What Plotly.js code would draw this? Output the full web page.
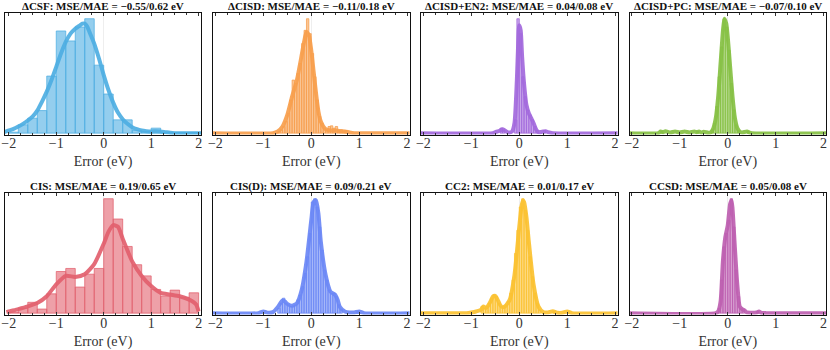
<!DOCTYPE html>
<html>
<head>
<meta charset="utf-8">
<script src="https://cdn.plot.ly/plotly-3.0.1.min.js"></script>
<style>html,body{margin:0;padding:0;background:#fff;}#chart{width:830px;height:350px;}</style>
</head>
<body>
<div id="chart"></div>
<script>
// ---------- titles / colours ----------
const panelTitles = [
  "ΔCSF: MSE/MAE = −0.55/0.62 eV",
  "ΔCISD: MSE/MAE = −0.11/0.18 eV",
  "ΔCISD+EN2: MSE/MAE = 0.04/0.08 eV",
  "ΔCISD+PC: MSE/MAE = −0.07/0.10 eV",
  "CIS: MSE/MAE = 0.19/0.65 eV",
  "CIS(D): MSE/MAE = 0.09/0.21 eV",
  "CC2: MSE/MAE = 0.01/0.17 eV",
  "CCSD: MSE/MAE = 0.05/0.08 eV"
];
const panelColors = ["77,174,226","247,158,76","162,104,220","134,192,67","226,96,110","106,135,245","251,193,48","189,94,176"];
const binWidths = [0.2,0.05,0.05,0.05,0.2,0.05,0.05,0.05];
const xTickVals = [-2,-1,0,1,2];

// ---------- ΔCSF ----------
const csfBinX = [-1.9,-1.7,-1.5,-1.3,-1.1,-0.9,-0.7,-0.5,-0.3,-0.1,0.1,0.3,0.5,0.7,0.9,1.1,1.3,1.5,1.7,1.9];
const csfBinY = [3,25,45,68,172,308,278,320,345,205,118,40,40,8,5,15,3,2,2,2];
const csfKdeX = [-2.1,-2.0,-1.9,-1.8,-1.7,-1.6,-1.5,-1.4,-1.3,-1.2,-1.1,-1.0,-0.9,-0.8,-0.7,-0.6,-0.5,-0.45,-0.4,-0.35,-0.3,-0.2,-0.1,0,0.1,0.2,0.3,0.4,0.5,0.6,0.7,0.8,0.9,1.0,1.1,1.2,1.3,1.4,1.5,2.0,2.1];
const csfKdeY = [3,8,13,20,28,38,50,68,95,125,160,200,240,275,300,315,325,330,330,322,305,270,225,175,130,92,62,42,28,18,12,8,6,5,6,5,3,1,0,0,0];

// ---------- ΔCISD ----------
const cisdBinX = [-0.675,-0.625,-0.575,-0.525,-0.475,-0.425,-0.375,-0.325,-0.275,-0.225,-0.175,-0.125,-0.075,-0.025,0.025,0.075,0.125,0.175,0.225,0.275,0.325,0.375,0.425,0.475,0.525,0.575,0.625,0.675,0.725];
const cisdBinY = [5,10,20,35,60,100,160,150,180,210,270,310,345,300,240,170,100,50,30,15,10,20,22,15,20,8,10,6,8];
const cisdKdeX = [-2.1,-0.8,-0.7,-0.6,-0.5,-0.4,-0.3,-0.2,-0.15,-0.1,-0.05,0,0.05,0.1,0.15,0.2,0.3,0.4,0.5,0.6,0.7,0.8,0.9,2.1];
const cisdKdeY = [0,0,5,20,55,110,160,235,275,305,295,250,185,120,65,35,12,8,8,6,5,2,0,0];

// ---------- ΔCISD+EN2 ----------
const en2BinX = [-0.375,-0.325,-0.075,-0.025,0.025,0.075,0.125,0.175,0.225,0.275,0.325,0.375,0.525];
const en2BinY = [15,10,40,345,300,170,110,70,55,40,20,8,8];
const en2KdeX = [-2.1,-0.55,-0.5,-0.45,-0.4,-0.35,-0.3,-0.25,-0.2,-0.15,-0.1,-0.05,-0.02,0,0.03,0.06,0.1,0.15,0.2,0.25,0.3,0.35,0.4,0.5,0.55,0.6,0.7,2.1];
const en2KdeY = [0,0,3,5,8,12,8,3,2,5,30,160,280,325,310,230,150,85,60,45,30,12,3,5,6,3,0,0];

// ---------- ΔCISD+PC ----------
const pcBinX = [-1.375,-0.625,-0.325,-0.275,-0.225,-0.175,-0.125,-0.075,-0.025,0.025,0.075,0.125,0.175,0.225,0.425];
const pcBinY = [5,5,10,30,80,170,260,345,320,250,150,70,25,8,5];
const pcKdeX = [-2.1,-1.45,-1.4,-1.35,-1.3,-1.2,-1.1,-1.0,-0.9,-0.8,-0.7,-0.65,-0.6,-0.55,-0.5,-0.4,-0.35,-0.3,-0.25,-0.2,-0.15,-0.1,-0.07,-0.03,0,0.05,0.1,0.15,0.2,0.25,0.3,0.4,0.45,0.5,2.1];
const pcKdeY = [0,0,5,3,6,2,5,2,5,2,5,3,5,2,4,1,3,15,45,110,210,310,345,330,290,200,110,45,15,5,2,5,2,0,0];

// ---------- CIS ----------
const cisBinX = [-1.9,-1.7,-1.5,-1.3,-1.1,-0.9,-0.7,-0.5,-0.3,-0.1,0.1,0.3,0.5,0.7,0.9,1.1,1.3,1.5,1.7,1.9];
const cisBinY = [3,15,32,12,57,123,132,77,115,132,338,278,197,143,110,70,50,68,47,60];
const cisKdeX = [-2.05,-2.0,-1.8,-1.6,-1.4,-1.2,-1.0,-0.8,-0.6,-0.4,-0.2,0,0.1,0.2,0.3,0.4,0.6,0.8,1.0,1.2,1.4,1.6,1.8,1.9,1.95,2.0];
const cisKdeY = [3,5,12,20,30,50,85,110,107,115,145,205,240,260,255,220,153,110,80,60,55,50,40,32,25,5];

// ---------- CIS(D) ----------
const cisdDBinX = [-0.675,-0.625,-0.575,-0.525,-0.475,-0.425,-0.375,-0.325,-0.275,-0.225,-0.175,-0.125,-0.075,-0.025,0.025,0.075,0.125,0.175,0.225,0.275,0.325,0.375,0.425,0.475,0.525,0.575,0.625,0.975];
const cisdDBinY = [15,30,45,30,25,20,22,25,40,55,80,120,170,240,335,345,320,260,190,130,100,70,60,60,50,25,12,5];
const cisdDKdeX = [-2.1,-1.1,-1.0,-0.9,-0.8,-0.7,-0.6,-0.55,-0.5,-0.4,-0.3,-0.2,-0.1,0,0.05,0.1,0.15,0.2,0.3,0.4,0.5,0.55,0.6,0.7,0.8,0.9,1.0,1.1,2.1];
const cisdDKdeY = [0,0,5,1,3,18,38,35,28,22,30,70,155,280,335,340,300,215,115,65,55,40,18,5,2,2,5,0,0];

// ---------- CC2 ----------
const cc2BinX = [-0.775,-0.725,-0.675,-0.625,-0.575,-0.525,-0.475,-0.425,-0.375,-0.325,-0.275,-0.225,-0.175,-0.125,-0.075,-0.025,0.025,0.075,0.125,0.175,0.225,0.275,0.325,0.375,0.425,0.725,1.025];
const cc2BinY = [20,15,20,30,45,55,50,30,20,20,25,35,60,100,180,250,320,345,310,250,170,110,60,30,10,5,5];
const cc2KdeX = [-2.1,-1.1,-1.0,-0.9,-0.8,-0.75,-0.7,-0.65,-0.6,-0.55,-0.5,-0.45,-0.4,-0.35,-0.3,-0.2,-0.1,0,0.05,0.08,0.1,0.15,0.2,0.3,0.4,0.5,0.6,0.7,0.8,0.9,1.0,1.1,2.1];
const cc2KdeY = [0,0,2,5,10,20,15,22,35,50,52,40,25,18,20,40,115,260,325,340,335,290,215,85,20,3,2,6,1,1,5,0,0];

// ---------- CCSD ----------
const ccsdBinX = [-0.175,-0.125,-0.075,-0.025,0.025,0.075,0.125,0.175,0.225,0.275,0.325,0.625];
const ccsdBinY = [15,100,200,240,280,345,260,130,50,15,12,5];
const ccsdKdeX = [-2.1,-0.25,-0.2,-0.15,-0.1,-0.05,0,0.05,0.08,0.1,0.15,0.2,0.25,0.3,0.35,0.4,0.6,0.65,0.7,0.8,2.1];
const ccsdKdeY = [0,0,5,35,160,230,265,330,340,315,195,85,20,12,8,2,2,5,1,0,0];

const binXs = [csfBinX,cisdBinX,en2BinX,pcBinX,cisBinX,cisdDBinX,cc2BinX,ccsdBinX];
const binYs = [csfBinY,cisdBinY,en2BinY,pcBinY,cisBinY,cisdDBinY,cc2BinY,ccsdBinY];
const kdeXs = [csfKdeX,cisdKdeX,en2KdeX,pcKdeX,cisKdeX,cisdDKdeX,cc2KdeX,ccsdKdeX];
const kdeYs = [csfKdeY,cisdKdeY,en2KdeY,pcKdeY,cisKdeY,cisdDKdeY,cc2KdeY,ccsdKdeY];

// ---------- layout geometry ----------
const W = 830, H = 350;
const colLeft = [5, 213, 421, 629.5];
const colW = [196, 196.5, 196.5, 196.5];
const xRanges = [[-2.08, 2.05], [-2.05, 2.05], [-2.05, 2.05], [-2.05, 2.05]];
const rowTop = [13, 193];
const rowH = 121.5;
const serif = "'Liberation Serif', 'Times New Roman', serif";

const traces = [];
const layout = {
  width: W, height: H,
  margin: {l:0, r:0, t:0, b:0},
  paper_bgcolor: "#fff", plot_bgcolor: "#fff",
  showlegend: false,
  font: {family: serif, color: "#222"},
  annotations: [],
  bargap: 0
};

for (let i = 0; i < 8; i++) {
  const r = Math.floor(i / 4), c = i % 4;
  const ax = i === 0 ? "" : String(i + 1);
  const col = panelColors[i];
  traces.push({
    type: "bar", x: binXs[i], y: binYs[i], width: binWidths[i],
    xaxis: "x" + ax, yaxis: "y" + ax,
    marker: {color: "rgba(" + col + ",0.6)", line: {color: "rgba(" + col + ",0.75)", width: 1}},
    hoverinfo: "skip"
  });
  traces.push({
    type: "scatter", mode: "lines", x: kdeXs[i], y: kdeYs[i],
    xaxis: "x" + ax, yaxis: "y" + ax,
    line: {color: "rgba(" + col + ",0.92)", width: 4, shape: "spline", smoothing: 0.6},
    hoverinfo: "skip"
  });
  const maxV = Math.max(...binYs[i], ...kdeYs[i]);
  const x0 = colLeft[c] / W, x1 = (colLeft[c] + colW[c]) / W;
  const y1 = 1 - rowTop[r] / H, y0 = 1 - (rowTop[r] + rowH) / H;
  layout["xaxis" + ax] = {
    domain: [x0, x1], anchor: "y" + ax, range: xRanges[c],
    tickvals: xTickVals, ticks: "inside", ticklen: 3, tickwidth: 1, tickcolor: "#333",
    minor: {dtick: 0.25, ticks: "inside", ticklen: 2, tickcolor: "#333"},
    showline: true, linecolor: "#111", linewidth: 1, mirror: "allticks",
    showgrid: false, zeroline: true, zerolinecolor: "#eeeeee", zerolinewidth: 1,
    tickfont: {family: serif, size: 14, color: "#333"},
    ticklabelstandoff: -4, ticklabeloverflow: "allow",
    title: {text: "Error (eV)", font: {family: serif, size: 14, color: "#333"}, standoff: 5},
    fixedrange: true
  };
  layout["yaxis" + ax] = {
    domain: [y0, y1], anchor: "x" + ax, range: [-0.012 * maxV, 1.05 * maxV],
    showticklabels: false, ticks: "", showgrid: false, zeroline: false,
    showline: true, linecolor: "#111", linewidth: 1, mirror: true, fixedrange: true
  };
  layout.annotations.push({
    xref: "paper", yref: "paper", x: (x0 + x1) / 2, y: 1 - (rowTop[r] - 7) / H,
    xanchor: "center", yanchor: "middle", showarrow: false,
    text: "<b>" + panelTitles[i] + "</b>",
    font: {family: serif, size: 11, color: "#111"}
  });
}

Plotly.newPlot("chart", traces, layout, {staticPlot: true, displayModeBar: false});
</script>
</body>
</html>
